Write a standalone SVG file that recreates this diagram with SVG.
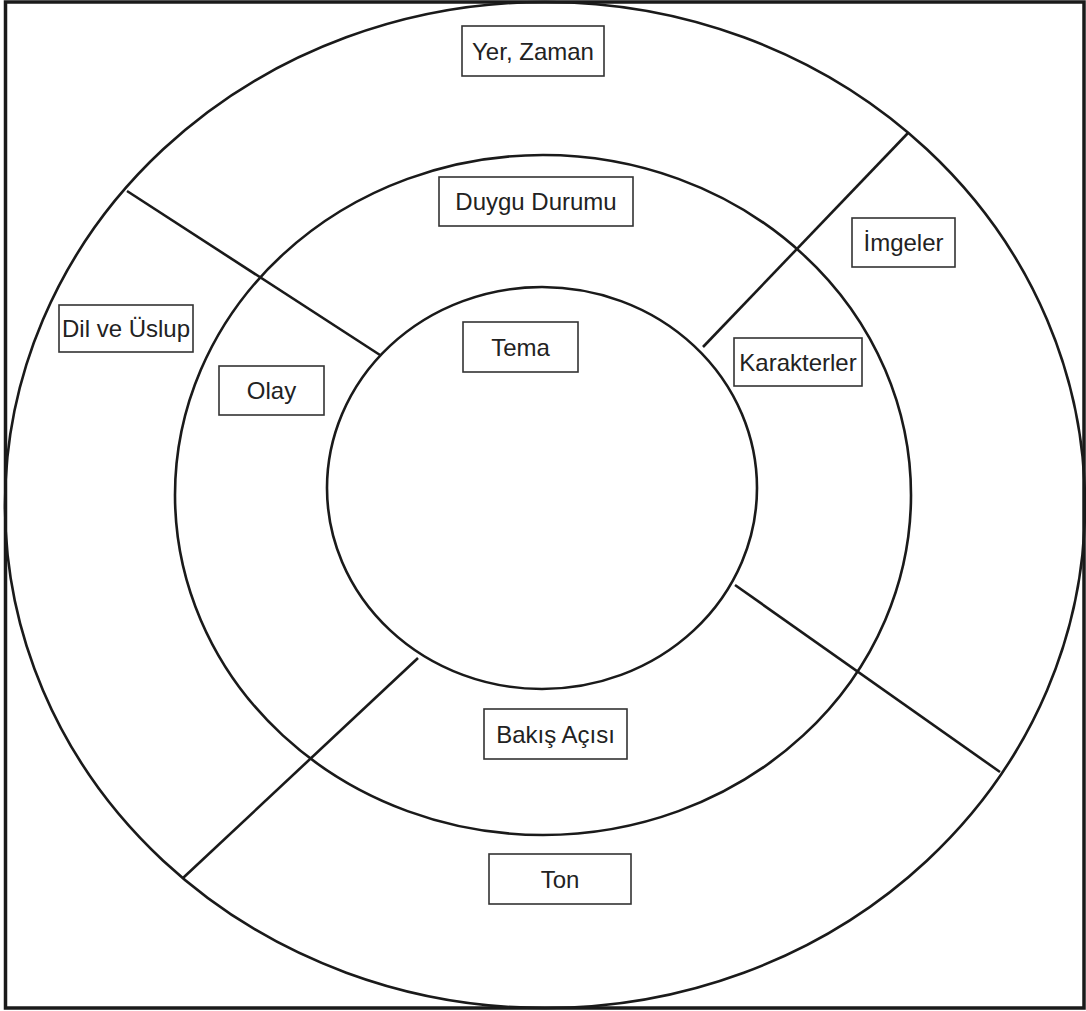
<svg xmlns="http://www.w3.org/2000/svg" width="1086" height="1011" viewBox="0 0 1086 1011">
<style>
.ring{fill:none;stroke:#1a1a1a;stroke-width:2.6}
.con{stroke:#1a1a1a;stroke-width:2.6;fill:none}
.box{fill:#fff;stroke:#333;stroke-width:1.6}
.lbl{font-family:"Liberation Sans",Arial,sans-serif;font-size:24px;fill:#222;text-anchor:middle;dominant-baseline:central}
</style>
<rect width="1086" height="1011" fill="#fff"/>
<rect x="5.5" y="2" width="1078.5" height="1006" fill="none" stroke="#1a1a1a" stroke-width="3.5"/>
<g id="rings">
<ellipse id="outer" class="ring" cx="545" cy="505" rx="540" ry="503"/>
<ellipse id="middle" class="ring" cx="543" cy="495" rx="368" ry="340"/>
<ellipse id="inner" class="ring" cx="542" cy="488" rx="215" ry="201"/>
</g>
<g id="connectors">
<line class="con" x1="127" y1="191" x2="380" y2="355"/>
<line class="con" x1="908" y1="133" x2="703" y2="347"/>
<line class="con" x1="735" y1="585" x2="1000" y2="772"/>
<line class="con" x1="418" y1="658" x2="183" y2="878"/>
</g>
<g id="yer-zaman"><rect class="box" x="462" y="26" width="142" height="50"/><text class="lbl" x="533" y="51">Yer, Zaman</text></g>
<g id="duygu-durumu"><rect class="box" x="439" y="177" width="194" height="49"/><text class="lbl" x="536" y="201.5">Duygu Durumu</text></g>
<g id="imgeler"><rect class="box" x="852" y="218" width="103" height="49"/><text class="lbl" x="903.5" y="242.5">İmgeler</text></g>
<g id="dil-ve-uslup"><rect class="box" x="59" y="305" width="134" height="47"/><text class="lbl" x="126" y="328.5">Dil ve Üslup</text></g>
<g id="tema"><rect class="box" x="463" y="322" width="115" height="50"/><text class="lbl" x="520.5" y="347">Tema</text></g>
<g id="karakterler"><rect class="box" x="734" y="338" width="128" height="48"/><text class="lbl" x="798" y="362">Karakterler</text></g>
<g id="olay"><rect class="box" x="219" y="366" width="105" height="49"/><text class="lbl" x="271.5" y="390.5">Olay</text></g>
<g id="bakis-acisi"><rect class="box" x="484" y="709" width="143" height="50"/><text class="lbl" x="555.5" y="734">Bakış Açısı</text></g>
<g id="ton"><rect class="box" x="489" y="854" width="142" height="50"/><text class="lbl" x="560" y="879">Ton</text></g>
</svg>
